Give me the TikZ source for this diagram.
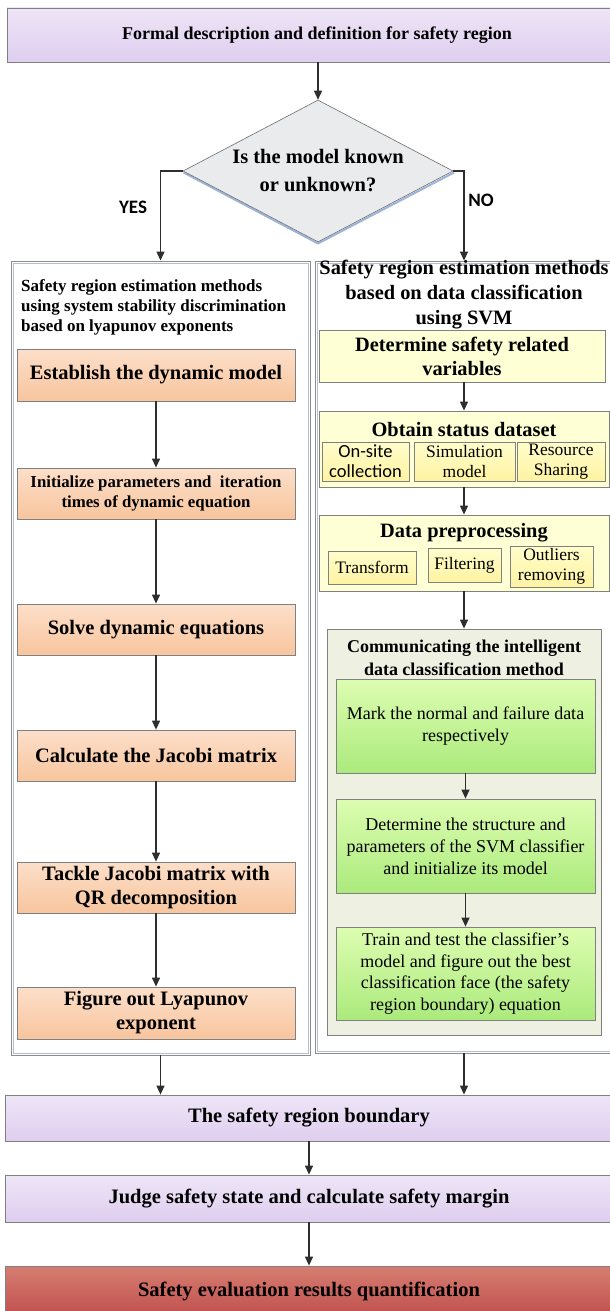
\documentclass[tikz,border=0pt]{standalone}
\usepackage{fontspec}
\setmainfont{Liberation Serif}
\newfontfamily\calfont{Carlito}
\usetikzlibrary{arrows.meta,shapes.geometric,calc}
\definecolor{bordergray}{HTML}{808080}
\definecolor{arrowgray}{HTML}{2E2E2E}
\definecolor{lavtop}{HTML}{EEE5F7}
\definecolor{lavbot}{HTML}{DFCEEF}
\definecolor{diafill}{HTML}{E9EBED}
\definecolor{diaborder}{HTML}{6E6E6E}
\definecolor{shadowblue}{HTML}{9DB4DA}
\definecolor{ortop}{HTML}{FCDFC9}
\definecolor{orbot}{HTML}{F8C59E}
\definecolor{yelmain}{HTML}{FFFFD6}
\definecolor{yeltop}{HTML}{FFFDCB}
\definecolor{yelbot}{HTML}{FFF3A2}
\definecolor{commfill}{HTML}{EEF0E1}
\definecolor{grtop}{HTML}{DDFDB1}
\definecolor{grbot}{HTML}{ABEA7C}
\definecolor{redtop}{HTML}{D77D72}
\definecolor{redbot}{HTML}{C0504D}
\definecolor{contline}{HTML}{8C8C8C}
\definecolor{continner}{HTML}{B4BECE}
\newcommand\myfs[2]{\fontsize{#1}{#2}\selectfont\bfseries}
\newcommand\myfn[2]{\fontsize{#1}{#2}\selectfont}
\begin{document}
\begin{tikzpicture}[x=1pt,y=-1pt,
  arr/.style={draw=arrowgray, line width=1.2pt, -{Triangle[length=9pt,width=8pt]}},
  base/.style={draw=bordergray, line width=0.8pt, inner sep=0pt, align=center},
  lavbox/.style={base, top color=lavtop, bottom color=lavbot},
  orbox/.style={base, top color=ortop, bottom color=orbot, minimum width=278},
  ybox/.style={base, fill=yelmain},
  ysub/.style={base, top color=yeltop, bottom color=yelbot},
  grbox/.style={base, top color=grtop, bottom color=grbot, minimum width=259},
  redbox/.style={base, top color=redtop, bottom color=redbot},
  cont/.style={draw=contline, line width=0.9pt, inner sep=0pt},
  lbl/.style={inner sep=0pt, align=center}
]
\clip (0,0) rectangle (610,1311);
\fill[white] (0,0) rectangle (610,1311);

% top
\node[lavbox, minimum width=620, minimum height=54, font=\myfs{18}{21}] (top) at (317,35) {Formal description and definition for safety region};

% diamond
\draw[shadowblue, line width=2pt] (183.5,172.5) -- (318,243.5) -- (454,172.5);
\node[diamond, draw=diaborder, fill=diafill, line width=0.6pt, minimum width=270, minimum height=142, aspect=1.9, inner sep=0pt, align=center, font=\myfs{20.5}{28}] (dia) at (318,171) {Is the model known\\or unknown?};
\draw[arr] (dia.north |- top.south) -- (dia.north);

\node[lbl, font=\calfont\bfseries\fontsize{19}{22}\selectfont] (yes) at (133,207) {YES};
\node[lbl, font=\calfont\bfseries\fontsize{19}{22}\selectfont] (no) at (481,200) {NO};

% containers
\node[cont, minimum width=299, minimum height=794] (leftc) at (160.5,658) {};
\draw[continner, line width=0.7pt] ($(leftc.north west)+(2.5,2.5)$) rectangle ($(leftc.south east)+(-2.5,-2.5)$);
\node[cont, minimum width=298, minimum height=792] (rightc) at (464,657) {};
\draw[continner, line width=0.7pt] ($(rightc.north west)+(2.5,2.5)$) rectangle ($(rightc.south east)+(-2.5,-2.5)$);
\draw[arr] (dia.west) -| (leftc.north);
\draw[arr] (dia.east) -| (rightc.north);

% left column
\node[anchor=north west, align=left, inner sep=0pt, font=\myfs{17}{20}] (ltitle) at (21,279) {Safety region estimation methods\\using system stability discrimination\\based on lyapunov exponents};
\node[orbox, minimum height=52, font=\myfs{20.5}{24}] (est) at (156,375) {Establish the dynamic model};
\node[orbox, minimum height=51, font=\myfs{16.8}{20}] (init) at (156,493.5) {Initialize parameters and\ \ iteration\\times of dynamic equation};
\node[orbox, minimum height=51, font=\myfs{20.5}{24}] (solve) at (156,629.5) {Solve dynamic equations};
\node[orbox, minimum height=51, font=\myfs{20.5}{24}] (calc) at (156,755.5) {Calculate the Jacobi matrix};
\node[orbox, minimum height=51, font=\myfs{20.5}{24}] (tackle) at (156,887.5) {Tackle Jacobi matrix with\\QR decomposition};
\node[orbox, minimum height=52, font=\myfs{20.5}{24}] (fig) at (156,1013) {Figure out Lyapunov\\exponent};
\draw[arr] (est) -- (init);
\draw[arr] (init) -- (solve);
\draw[arr] (solve) -- (calc);
\draw[arr] (calc) -- (tackle);
\draw[arr] (tackle) -- (fig);

% right column
\node[lbl, font=\myfs{20.4}{25}] (rtitle) at (464,295) {Safety region estimation methods\\based on data classification\\using SVM};
\node[ybox, minimum width=286, minimum height=52, font=\myfs{20.4}{24}] (det) at (462,356) {Determine safety related\\variables};
\node[ybox, minimum width=290, minimum height=76] (obtain) at (464,449) {};
\node[lbl, font=\myfs{20.4}{24}] (obtaint) at (464,430) {Obtain status dataset};
\node[ysub, minimum width=87, minimum height=39, font=\calfont\fontsize{18.5}{20}\selectfont] (onsite) at (365.5,461.5) {On-site\\collection};
\node[ysub, minimum width=101, minimum height=39, font=\myfn{17.5}{20}] (sim) at (464.5,461.5) {Simulation\\model};
\node[ysub, minimum width=88, minimum height=39, font=\myfn{17.5}{20}] (resrc) at (561,461.5) {Resource\\Sharing};
\node[ybox, minimum width=290, minimum height=76] (data) at (464,553) {};
\node[lbl, font=\myfs{20.4}{24}] (datat) at (464,533) {Data preprocessing};
\node[ysub, minimum width=88, minimum height=33, font=\myfn{17.5}{20}] (trans) at (372,567.5) {Transform};
\node[ysub, minimum width=73, minimum height=34, font=\myfn{17.5}{20}] (filt) at (464.5,565) {Filtering};
\node[ysub, minimum width=83, minimum height=41, font=\myfn{17.5}{20}] (outl) at (551.5,566.5) {Outliers\\removing};
\node[base, fill=commfill, minimum width=274, minimum height=406] (comm) at (464,832) {};
\node[lbl, font=\myfs{18}{23}] (commt) at (464,657.5) {Communicating the intelligent\\data classification method};
\node[grbox, minimum height=94, font=\myfn{18}{22}] (mark) at (465.5,726) {Mark the normal and failure data\\respectively};
\node[grbox, minimum height=94, font=\myfn{18}{22}] (dets) at (465.5,846) {Determine the structure and\\parameters of the SVM classifier\\and initialize its model};
\node[grbox, minimum height=93, font=\myfn{18}{21.7}] (train) at (465.5,973.5) {Train and test the classifier’s\\model and figure out the best\\classification face (the safety\\region boundary) equation};
\draw[arr] (464,0 |- det.south) -- (464,0 |- obtain.north);
\draw[arr] (obtain.south) -- (data.north);
\draw[arr] (data.south) -- (comm.north);
\draw[arr] (mark) -- (dets);
\draw[arr] (dets) -- (train);

% bottom
\node[lavbox, minimum width=608, minimum height=46, font=\myfs{20.5}{24}] (bnd) at (309,1118) {The safety region boundary};
\node[lavbox, minimum width=608, minimum height=47, font=\myfs{20.5}{24}] (judge) at (309,1198.5) {Judge safety state and calculate safety margin};
\node[redbox, minimum width=608, minimum height=50, font=\myfs{20.5}{24}] (result) at (309,1291) {Safety evaluation results quantification};
\draw[arr] (leftc.south) -- (leftc.south |- bnd.north);
\draw[arr] (rightc.south) -- (rightc.south |- bnd.north);
\draw[arr] (bnd) -- (judge);
\draw[arr] (judge) -- (result);
\end{tikzpicture}
\end{document}
